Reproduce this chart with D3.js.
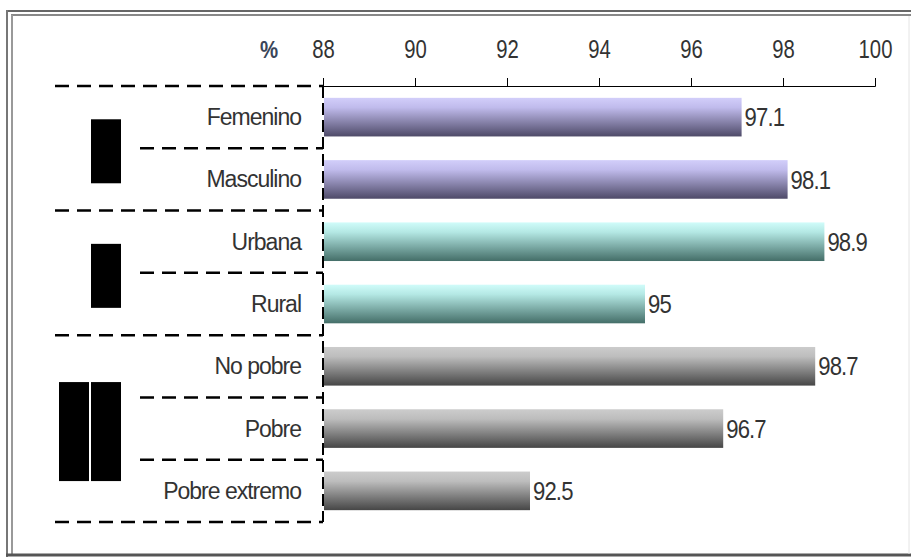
<!DOCTYPE html>
<html>
<head>
<meta charset="utf-8">
<script src="https://cdn.jsdelivr.net/npm/d3@7"></script>
<style>
  body { margin: 0; background: #fff; }
  svg { display: block; font-family: "Liberation Sans", Arial, sans-serif; }
  .axis path, .axis line { stroke: #000; }
  .axis text { font-size: 26px; fill: #333; }
</style>
</head>
<body>
<svg width="911" height="558"></svg>
<script>
var categories = ["Femenino", "Masculino", "Urbana", "Rural", "No pobre", "Pobre", "Pobre extremo"];
var values = [97.1, 98.1, 98.9, 95, 98.7, 96.7, 92.5];
var valueLabels = ["97.1", "98.1", "98.9", "95", "98.7", "96.7", "92.5"];
var groupOf = [0, 0, 1, 1, 2, 2, 2];
var tickValues = [88, 90, 92, 94, 96, 98, 100];
// groups: first and last category index, and how many black label blocks
var groupStart = [0, 2, 4];
var groupEnd = [1, 3, 6];
var groupBlocks = [1, 1, 2];

var svg = d3.select("svg"),
  margin = {top: 86, left: 323, right: 36, bottom: 36},
  width = 911 - margin.left - margin.right,
  height = 558 - margin.top - margin.bottom;

var palette = [
  ["#d2cefa", "#c0bbec", "#4e4a68"],
  ["#d0fcfa", "#b4e8e4", "#446e68"],
  ["#cccccc", "#bdbdbd", "#464646"]
];

var defs = svg.append("defs");
palette.forEach(function(c, i) {
  var gr = defs.append("linearGradient")
    .attr("id", "grad" + i)
    .attr("x1", 0).attr("y1", 0).attr("x2", 0).attr("y2", 1);
  gr.append("stop").attr("offset", "0%").attr("stop-color", c[0]);
  gr.append("stop").attr("offset", "25%").attr("stop-color", c[1]);
  gr.append("stop").attr("offset", "100%").attr("stop-color", c[2]);
});

// frame
svg.append("line").attr("x1", 6).attr("x2", 911).attr("y1", 11).attr("y2", 11)
  .attr("stroke", "#666").attr("stroke-width", 2);
svg.append("line").attr("x1", 11).attr("x2", 911).attr("y1", 15).attr("y2", 15)
  .attr("stroke", "#888").attr("stroke-width", 2);
svg.append("line").attr("x1", 7).attr("x2", 7).attr("y1", 10).attr("y2", 557)
  .attr("stroke", "#777").attr("stroke-width", 2);
svg.append("line").attr("x1", 12).attr("x2", 12).attr("y1", 15).attr("y2", 554)
  .attr("stroke", "#999").attr("stroke-width", 2);
svg.append("line").attr("x1", 6).attr("x2", 911).attr("y1", 555).attr("y2", 555)
  .attr("stroke", "#555").attr("stroke-width", 3);
svg.append("line").attr("x1", 909).attr("x2", 909).attr("y1", 16).attr("y2", 554)
  .attr("stroke", "#e4e4e4").attr("stroke-width", 1);

var g = svg.append("g").attr("transform", "translate(" + margin.left + "," + margin.top + ")");

var x = d3.scaleLinear().domain([88, 100]).range([0, width]);
var y = d3.scaleBand().domain(categories).range([0, height]).paddingInner(0.38).paddingOuter(0.19);
var step = y.step();

var xAxis = g.append("g")
  .attr("class", "axis")
  .call(d3.axisTop(x).tickValues(tickValues).tickSize(8).tickPadding(20).tickFormat(d3.format("d")));
xAxis.selectAll(".tick text").attr("transform", "scale(0.78,1)");

g.append("text")
  .attr("transform", "translate(" + (x(88) - 54) + ",-28) scale(0.85,1)")
  .attr("text-anchor", "middle")
  .attr("font-size", 24).attr("font-weight", "bold")
  .attr("fill", "#3a4558")
  .text("%");

// category axis (dashed)
g.append("line")
  .attr("x1", 0).attr("x2", 0).attr("y1", 0).attr("y2", height)
  .attr("stroke", "#000").attr("stroke-width", 2).attr("stroke-dasharray", "12,5");

// separators
var bounds = d3.range(categories.length + 1);
g.selectAll(".sep")
  .data(bounds)
  .enter().append("line")
  .attr("class", "sep")
  .attr("x1", function(d) { return (d === 0 || groupStart.indexOf(d) >= 0 || d === categories.length) ? -268 : -183; })
  .attr("x2", 0)
  .attr("y1", function(d) { return d * step; })
  .attr("y2", function(d) { return d * step; })
  .attr("stroke", "#000").attr("stroke-width", 2.5).attr("stroke-dasharray", "14,8");

// group label blocks (rendered as black boxes)
groupStart.forEach(function(s, i) {
  var top = s * step, bot = (groupEnd[i] + 1) * step;
  var mid = (top + bot) / 2 + 3;
  var len = i === 2 ? 99 : 64;
  for (var b = 0; b < groupBlocks[i]; b++) {
    g.append("rect")
      .attr("x", -232 - b * 32)
      .attr("y", mid - len / 2)
      .attr("width", 30)
      .attr("height", len)
      .attr("fill", "#000");
  }
});

// category labels
g.selectAll(".cat")
  .data(categories)
  .enter().append("text")
  .attr("class", "cat")
  .attr("transform", function(d) { return "translate(-22," + (y(d) + y.bandwidth() / 2) + ")"; })
  .attr("dy", "0.35em")
  .attr("text-anchor", "end")
  .attr("font-size", 23)
  .attr("letter-spacing", "-1px")
  .attr("fill", "#333")
  .text(function(d) { return d; });

// bars
g.selectAll(".bar")
  .data(values)
  .enter().append("rect")
  .attr("class", "bar")
  .attr("x", x(88) + 1)
  .attr("y", function(d, i) { return y(categories[i]); })
  .attr("width", function(d) { return x(d) - x(88) - 1; })
  .attr("height", y.bandwidth())
  .attr("fill", function(d, i) { return "url(#grad" + groupOf[i] + ")"; });

// value labels
g.selectAll(".val")
  .data(values)
  .enter().append("text")
  .attr("class", "val")
  .attr("transform", function(d, i) {
    return "translate(" + (x(d) + 3) + "," + (y(categories[i]) + y.bandwidth() / 2) + ") scale(0.85,1)";
  })
  .attr("dy", "0.35em")
  .attr("font-size", 26)
  .attr("letter-spacing", "-1px")
  .attr("fill", "#333")
  .text(function(d, i) { return valueLabels[i]; });
</script>
</body>
</html>
